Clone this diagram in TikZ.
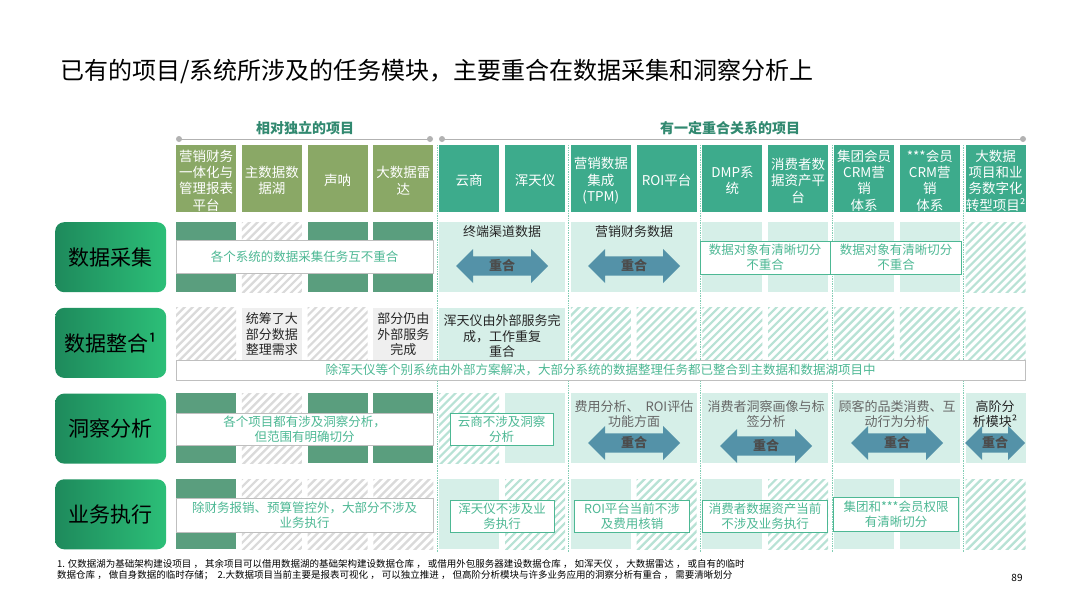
\documentclass[tikz,border=0pt]{standalone}
\usepackage{fontspec}
\setmainfont{Noto Sans CJK SC}
\usetikzlibrary{shapes.arrows}
\definecolor{olivegr}{HTML}{8AA866}
\definecolor{tealhd}{HTML}{3DAB8C}
\definecolor{darkcell}{HTML}{5A9E7E}
\definecolor{lightcell}{HTML}{D6EFE8}
\definecolor{tealhatch}{HTML}{B8E2D5}
\definecolor{greyhatch}{HTML}{DADADA}
\definecolor{greycell}{HTML}{EFEFEF}
\definecolor{arrowblue}{HTML}{5492A8}
\definecolor{tealtxt}{HTML}{4DB894}
\definecolor{rowdark}{HTML}{1E8A5C}
\definecolor{rowlight}{HTML}{2CBF78}
\newcommand{\fs}[1]{\fontsize{#1}{\fpeval{1.2*#1}}\selectfont}
% column and row origins
\newcommand{\cx}[1]{(176+65.8*(#1-1))}
\newcommand{\ry}[1]{(222+85.7*(#1-1))}
% solid block over columns #1..#2 of row #3
\newcommand{\blk}[4]{\fill[#4] ({\cx{#1}},{\ry{#3}}) rectangle ({\cx{#2}+60},{\ry{#3}+70});}
% hatched block
\newcommand{\hblk}[4]{\begin{scope}
  \clip ({\cx{#1}},{\ry{#3}}) rectangle ({\cx{#2}+60},{\ry{#3}+70});
  \fill[white] ({\cx{#1}},{\ry{#3}}) rectangle ({\cx{#2}+60},{\ry{#3}+70});
  \foreach \i in {-80,-72,...,140}
    \draw[#4,line width=2.2pt] ({\cx{#1}+\i},{\ry{#3}+72}) -- ++(74,-74);
  \end{scope}}
\tikzset{
  hdbox/.style={minimum width=60pt,minimum height=67pt,inner sep=1pt,text=white,align=center,font=\fs{13.5}},
  rowbox/.style={rounded corners=9pt,minimum width=111pt,minimum height=70pt,left color=rowdark,right color=rowlight,font=\fs{21}},
  note/.style={fill=white,draw=#1,line width=0.9pt,align=center,text=tealtxt,font=\fs{12.5},inner sep=1pt},
  note/.default=tealtxt,
  overlap/.style={double arrow,fill=arrowblue,minimum height=92pt,minimum width=34pt,double arrow head extend=5pt,inner sep=0pt,font=\bfseries\fs{13},text=black!70},
  celltxt/.style={align=center,font=\fs{13},text=black!85},
  sep/.style={tealtxt!70,densely dotted,line width=0.7pt}
}
\begin{document}
\begin{tikzpicture}[x=1pt,y=-1pt]
\useasboundingbox (0,0) rectangle (1080,608);
\fill[white] (0,0) rectangle (1080,608);
\node[anchor=west,font=\fs{24}] (title) at (57,72) {已有的项目/系统所涉及的任务模块，主要重合在数据采集和洞察分析上};
% group headers
\node[text=tealhd!80!black,font=\bfseries\fs{14}] (g1) at (305,128) {相对独立的项目};
\node[text=tealhd!80!black,font=\bfseries\fs{14}] (g2) at (730,128) {有一定重合关系的项目};
\coordinate (g1a) at (179,139); \coordinate (g1b) at (430,139);
\coordinate (g2a) at (442,139); \coordinate (g2b) at (1023,139);
\draw[gray!60,line width=1pt] (g1a) -- (g1b) (g2a) -- (g2b);
\foreach \p in {g1a,g1b,g2a,g2b} \fill[gray!60] (\p) circle (3);
% column headers
\foreach \c/\t [count=\k] in {1/{营销财务\\一体化与\\管理报表\\平台},2/{主数据数\\据湖},3/{声呐},4/{大数据雷\\达},5/{云商},6/{浑天仪},7/{营销数据\\集成\\(TPM)},8/{ROI平台},9/{DMP系\\统},10/{消费者数\\据资产平\\台},11/{集团会员\\CRM营\\销\\体系},12/{***会员\\CRM营\\销\\体系},13/{大数据\\项目和业\\务数字化\\转型项目²}}{
  \ifnum\c<5 \def\hc{olivegr}\else\def\hc{tealhd}\fi
  \fill[\hc] ({\cx{\c}},145) rectangle ({\cx{\c}+60},212);
  \begin{scope}
    \clip ({\cx{\c}},145) rectangle ({\cx{\c}+60},212);
    \node[hdbox,anchor=north] (h\c) at ({\cx{\c}+30},147) {\t};
  \end{scope}
}
% separators
\foreach \x in {437,568,700,832,963} \draw[sep] (\x,145) -- (\x,552);
% row labels
\foreach \r/\t in {1/数据采集,2/数据整合¹,3/洞察分析,4/业务执行}
  \node[rowbox,anchor=north west] (row\r) at (55,{\ry{\r}}) {\t};
% row 1
\blk{1}{1}{1}{darkcell} \hblk{2}{2}{1}{greyhatch} \blk{3}{3}{1}{darkcell} \blk{4}{4}{1}{darkcell}
\blk{5}{6}{1}{lightcell} \blk{7}{8}{1}{lightcell}
\foreach \c in {9,...,12} {\blk{\c}{\c}{1}{lightcell}}
\hblk{13}{13}{1}{tealhatch}
\node[celltxt] (a1) at (502,232) {终端渠道数据};
\node[overlap] (o1) at (502,266) {重合};
\node[celltxt] (a2) at (634,232) {营销财务数据};
\node[overlap] (o2) at (634,266) {重合};
\node[note=gray!50,minimum width=257pt,minimum height=33pt] (n1) at (304.5,257) {各个系统的数据采集任务互不重合};
\node[note,minimum width=130pt,minimum height=33pt] (n2) at (765,257.5) {数据对象有清晰切分\\不重合};
\node[note,minimum width=131pt,minimum height=33pt] (n3) at (896,257.5) {数据对象有清晰切分\\不重合};
% row 2
\hblk{1}{1}{2}{greyhatch} \blk{2}{2}{2}{greycell} \hblk{3}{3}{2}{greyhatch} \blk{4}{4}{2}{greycell}
\blk{5}{6}{2}{lightcell}
\foreach \c in {7,...,13} {\hblk{\c}{\c}{2}{tealhatch}}
\node[celltxt,anchor=north] (b1) at ({\cx{2}+30},309) {统筹了大\\部分数据\\整理需求};
\node[celltxt,anchor=north] (b2) at ({\cx{4}+30},309) {部分仍由\\外部服务\\完成};
\node[celltxt,anchor=north] (b3) at (502,311) {浑天仪由外部服务完\\成，工作重复\\重合};
\node[note=gray!50,minimum width=849pt,minimum height=20pt] (n4) at (600.5,370) {除浑天仪等个别系统由外部方案解决，大部分系统的数据整理任务都已整合到主数据和数据湖项目中};
% row 3
\blk{1}{1}{3}{darkcell} \hblk{2}{2}{3}{greyhatch} \blk{3}{3}{3}{darkcell} \blk{4}{4}{3}{darkcell}
\hblk{5}{5}{3}{tealhatch} \blk{6}{6}{3}{lightcell}
\blk{7}{8}{3}{lightcell} \blk{9}{10}{3}{lightcell} \blk{11}{12}{3}{lightcell} \blk{13}{13}{3}{lightcell}
\node[celltxt,text=black!60] (c1) at (634,414) {费用分析、\ \ ROI评估\\功能方面};
\node[overlap] (o3) at (634,443) {重合};
\node[celltxt,text=black!60] (c2) at (766,414) {消费者洞察画像与标\\签分析};
\node[overlap] (o4) at (766,446) {重合};
\node[celltxt,text=black!60] (c3) at (897,414) {顾客的品类消费、互\\动行为分析};
\node[overlap] (o5) at (897,443) {重合};
\node[celltxt] (c4) at (995,414) {高阶分\\析模块²};
\node[overlap,minimum height=60pt] (o6) at (995,443) {重合};
\node[note=gray!50,minimum width=257pt,minimum height=32pt] (n5) at (304.5,429) {各个项目都有涉及洞察分析，\\但范围有明确切分};
\node[note,minimum width=103pt,minimum height=32pt] (n6) at (501.5,429.5) {云商不涉及洞察\\分析};
% row 4
\blk{1}{1}{4}{darkcell} \foreach \c in {2,3,4} {\hblk{\c}{\c}{4}{greyhatch}}
\blk{5}{5}{4}{lightcell} \hblk{6}{6}{4}{tealhatch}
\blk{7}{7}{4}{lightcell} \hblk{8}{8}{4}{tealhatch}
\blk{9}{9}{4}{lightcell} \hblk{10}{10}{4}{tealhatch}
\blk{11}{11}{4}{lightcell} \blk{12}{12}{4}{lightcell} \hblk{13}{13}{4}{tealhatch}
\node[note=gray!50,minimum width=257pt,minimum height=34pt] (n7) at (304.5,515) {除财务报销、预算管控外，大部分不涉及\\业务执行};
\node[note,minimum width=104pt,minimum height=32pt] (n8) at (502,516) {浑天仪不涉及业\\务执行};
\node[note,minimum width=115pt,minimum height=32pt] (n9) at (632,516) {ROI平台当前不涉\\及费用核销};
\node[note,minimum width=125pt,minimum height=32pt] (n10) at (765,516) {消费者数据资产当前\\不涉及业务执行};
\node[note,minimum width=125pt,minimum height=34pt] (n11) at (896,514) {集团和***会员权限\\有清晰切分};
% footnote
\node[anchor=north west,align=left,font=\fs{9.5},inner sep=0] (fn) at (57,559) {1. 仅数据湖为基础架构建设项目 ， 其余项目可以借用数据湖的基础架构建设数据仓库 ， 或借用外包服务器建设数据仓库 ， 如浑天仪 ， 大数据雷达 ， 或自有的临时\\数据仓库 ， 做自身数据的临时存储；\ \ 2.大数据项目当前主要是报表可视化 ， 可以独立推进 ， 但高阶分析模块与许多业务应用的洞察分析有重合 ， 需要清晰划分};
\node[font=\fs{10}] (pg) at (1017,578) {89};
\end{tikzpicture}
\end{document}
